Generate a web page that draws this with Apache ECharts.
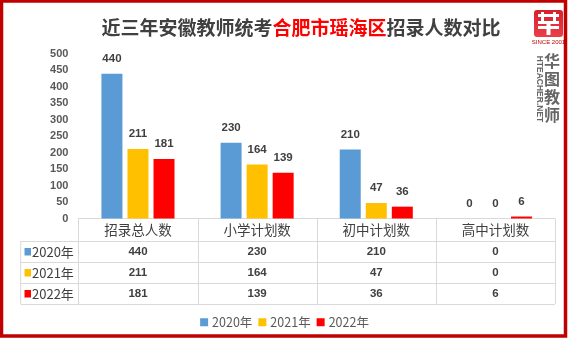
<!DOCTYPE html>
<html>
<head>
<meta charset="utf-8">
<script src="https://cdn.jsdelivr.net/npm/echarts@6/dist/echarts.min.js"></script>
<style>
  html, body { margin: 0; padding: 0; background: #fff; }
  #main { width: 569px; height: 340px; }
</style>
</head>
<body>
<div id="main"></div>
<script>
// Recruitment numbers for 瑶海区, three exam years
const categories = ['招录总人数', '小学计划数', '初中计划数', '高中计划数'];
const years = ['2020年', '2021年', '2022年'];
const values2020 = [440, 230, 210, 0];
const values2021 = [211, 164, 47, 0];
const values2022 = [181, 139, 36, 6];
const yMin = 0, yMax = 500, yStep = 50;

const seriesValues = [values2020, values2021, values2022];
const colors = ['#5b9bd5', '#ffc000', '#ff0000'];
const FONT = '"Noto Sans CJK SC", "Noto Sans", sans-serif';
const NUMFONT = '"Liberation Sans", "Noto Sans", sans-serif';
const TEXT = '#404040';
const GRID_LINE = '#d9d9d9';

const GRID = { left: 78.4, right: 14, top: 54, height: 164.5 };
const ROW_H = 21;
const TABLE_HEAD_BOTTOM = 241;
const TABLE_LEFT = 20.7;

const chart = echarts.init(document.getElementById('main'), null, { renderer: 'canvas' });

const option = {
  animation: false,
  backgroundColor: '#fff',
  title: {
    text: '{a|近三年安徽教师统考}{b|合肥市瑶海区}{a|招录人数对比}',
    left: 296, top: 13, textAlign: 'center',
    textStyle: {
      rich: {
        a: { fontFamily: FONT, fontWeight: 'bold', fontSize: 19, color: TEXT },
        b: { fontFamily: FONT, fontWeight: 'bold', fontSize: 19, color: '#ff0000' }
      }
    }
  },
  legend: {
    data: years, top: 311, left: 'center',
    icon: 'rect', itemWidth: 8, itemHeight: 8, itemGap: 6,
    textStyle: { fontFamily: FONT, fontSize: 12.5, color: '#595959', padding: [0, 0, 0, -1] }
  },
  grid: GRID,
  xAxis: {
    type: 'category', data: categories,
    axisLine: { show: true, lineStyle: { color: GRID_LINE, width: 1 } },
    axisTick: { show: false },
    axisLabel: { fontFamily: FONT, fontSize: 13.5, color: TEXT, margin: 5 }
  },
  yAxis: {
    type: 'value', min: yMin, max: yMax, interval: yStep,
    axisLine: { show: false }, axisTick: { show: false },
    splitLine: { show: false },
    axisLabel: { fontFamily: NUMFONT, fontWeight: 'bold', fontSize: 11, color: '#595959', margin: 10 }
  },
  series: years.map((y, i) => ({
    name: y, type: 'bar', data: seriesValues[i],
    barWidth: 21, barGap: '24%',
    itemStyle: { color: colors[i] },
    label: {
      show: true, position: 'top', distance: 9,
      fontFamily: NUMFONT, fontWeight: 'bold', fontSize: 11.5, color: TEXT
    }
  }))
};
chart.setOption(option);

// Data table under the plot, aligned to the category bands
const graphics = [];
const x0 = chart.convertToPixel({ xAxisIndex: 0 }, 0);
const x1 = chart.convertToPixel({ xAxisIndex: 0 }, 1);
const band = x1 - x0;
const left = x0 - band / 2;
const right = left + band * categories.length;
const axisY = chart.convertToPixel({ yAxisIndex: 0 }, 0);
const tableBottom = TABLE_HEAD_BOTTOM + ROW_H * years.length;
const line = (xa, ya, xb, yb) => ({
  type: 'line', silent: true,
  shape: { x1: xa, y1: ya, x2: xb, y2: yb },
  style: { stroke: GRID_LINE, lineWidth: 1 }
});
for (let c = 0; c <= categories.length; c++) {
  const x = Math.round(left + band * c) + 0.5;
  graphics.push(line(x, axisY, x, tableBottom));
}
graphics.push(line(TABLE_LEFT, TABLE_HEAD_BOTTOM, TABLE_LEFT, tableBottom));
for (let r = 0; r <= years.length; r++) {
  const y = TABLE_HEAD_BOTTOM + ROW_H * r + 0.5;
  graphics.push(line(TABLE_LEFT, y, right, y));
}
years.forEach((yr, r) => {
  const cy = TABLE_HEAD_BOTTOM + ROW_H * r + ROW_H / 2 + 0.5;
  graphics.push({
    type: 'rect', silent: true,
    shape: { x: 24.5, y: cy - 4, width: 6.5, height: 7.5 },
    style: { fill: colors[r] }
  });
  graphics.push({
    type: 'text', silent: true, x: 32, y: cy,
    style: { text: yr, font: '13px ' + FONT, fill: TEXT, textVerticalAlign: 'middle', verticalAlign: 'middle' }
  });
  seriesValues[r].forEach((v, c) => {
    graphics.push({
      type: 'text', silent: true, x: left + band * (c + 0.5), y: cy,
      style: { text: String(v), font: 'bold 11.5px ' + NUMFONT, fill: TEXT, align: 'center', verticalAlign: 'middle' }
    });
  });
});

// Frame around the whole chart
graphics.push({
  type: 'rect', silent: true, z: 100,
  shape: { x: 1.5, y: 1, width: 564, height: 335 },
  style: { fill: 'none', stroke: '#c00000', lineWidth: 3.5 }
});

// Publisher badge in the top-right corner
const badge = { type: 'group', x: 534, y: 10, children: [
  { type: 'rect', shape: { x: 0, y: 0, width: 29, height: 27, r: 3 },
    style: { fill: new echarts.graphic.LinearGradient(0, 0, 0, 1, [
      { offset: 0, color: '#d8202c' }, { offset: 1, color: '#e8404a' }]) } },
  { type: 'rect', shape: { x: 4, y: 4, width: 21, height: 3 }, style: { fill: '#fff' } },
  { type: 'rect', shape: { x: 7, y: 2, width: 3, height: 12 }, style: { fill: '#fff' } },
  { type: 'rect', shape: { x: 19, y: 2, width: 3, height: 12 }, style: { fill: '#fff' } },
  { type: 'rect', shape: { x: 4, y: 11, width: 21, height: 3 }, style: { fill: '#fff' } },
  { type: 'rect', shape: { x: 4, y: 16, width: 21, height: 3 }, style: { fill: '#fff' } },
  { type: 'rect', shape: { x: 12.5, y: 11, width: 4, height: 14 }, style: { fill: '#fff' } }
]};
graphics.push(badge);
graphics.push({
  type: 'text', silent: true, x: 548.5, y: 42,
  style: { text: 'SINCE 2001', font: '6px ' + NUMFONT, fill: '#c00000', align: 'center', verticalAlign: 'middle' }
});
graphics.push({
  type: 'text', silent: true, x: 552, y: 52,
  style: { text: '华\n图\n教\n师', font: 'bold 16px ' + FONT, lineHeight: 18, fill: '#666', align: 'center', verticalAlign: 'top' }
});
graphics.push({
  type: 'text', silent: true, x: 539, y: 89, rotation: -Math.PI / 2,
  style: { text: 'HTEACHER.NET', font: 'bold 8.5px ' + NUMFONT, fill: '#666', align: 'center', verticalAlign: 'middle' }
});

chart.setOption({ graphic: graphics });
</script>
</body>
</html>
